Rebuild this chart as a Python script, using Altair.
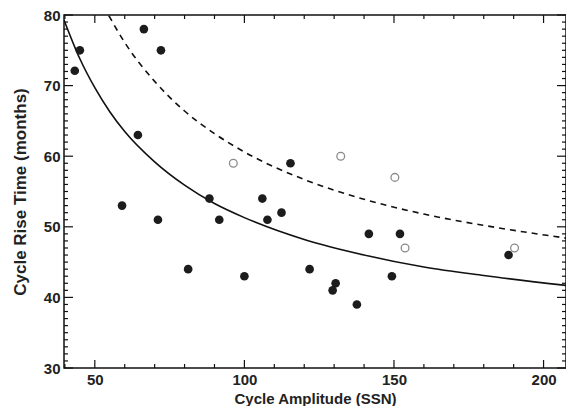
import altair as alt
import pandas as pd

# ---- data ----
filled_amp = [43.3, 45.0, 66.4, 72.1, 64.4, 59.1, 71.1, 81.2, 100.0, 88.3, 91.6,
              106.0, 107.7, 112.4, 115.4, 121.8, 130.5, 129.5, 137.6, 141.6, 152.0,
              149.3, 188.3]
filled_rise = [72.1, 75.0, 78.0, 75.0, 63.0, 53.0, 51.0, 44.0, 43.0, 54.0, 51.0,
               54.0, 51.0, 52.0, 59.0, 44.0, 42.0, 41.0, 39.0, 49.0, 49.0,
               43.0, 46.0]
open_amp = [96.3, 132.2, 150.3, 153.7, 190.3]
open_rise = [59.0, 60.0, 57.0, 47.0, 47.0]

solid_amp = [39.7, 45, 50, 55, 60, 70, 80, 90, 100, 120, 140, 160, 180, 207.5]
solid_rise = [79.3, 73.8, 69.7, 66.3, 63.5, 59.2, 55.9, 53.3, 51.3, 48.2, 46.0, 44.3, 43.1, 41.7]
dashed_amp = [54.7, 60, 70, 80, 90, 100, 120, 140, 160, 180, 207.5]
dashed_rise = [79.9, 76.1, 70.6, 66.4, 63.2, 60.6, 56.7, 53.9, 51.8, 50.2, 48.4]

x_major = [50, 100, 150, 200]
x_minor = [40, 60, 70, 80, 90, 110, 120, 130, 140, 160, 170, 180, 190]
y_major = [30, 40, 50, 60, 70, 80]
y_minor = [v for v in range(31, 80) if v % 10 != 0]

# ---- layout / style ----
W, H = 502, 353
FONT = "Liberation Sans"
xs = alt.Scale(domain=[39.7, 207.5], nice=False, zero=False)
ys = alt.Scale(domain=[30, 80], nice=False, zero=False)

pts = pd.DataFrame({"amp": filled_amp, "rise": filled_rise})
opn = pd.DataFrame({"amp": open_amp, "rise": open_rise})
sol = pd.DataFrame({"amp": solid_amp, "rise": solid_rise})
dsh = pd.DataFrame({"amp": dashed_amp, "rise": dashed_rise})

base_x = alt.X(
    "amp:Q", scale=xs,
    axis=alt.Axis(values=x_major, title="Cycle Amplitude (SSN)", ticks=False, tickSize=0,
                  domain=False, grid=False, labelFont=FONT, labelFontSize=15,
                  labelFontWeight="bold", labelColor="#222", labelPadding=4,
                  titleFont=FONT, titleFontSize=15, titleFontWeight="bold",
                  titleColor="#222", titleBaseline="alphabetic", titleY=35,
                  titleX=W / 2, titleAnchor="middle"),
)
base_y = alt.Y(
    "rise:Q", scale=ys,
    axis=alt.Axis(values=y_major, title="Cycle Rise Time (months)", ticks=False, tickSize=0,
                  domain=False, grid=False, labelFont=FONT, labelFontSize=15,
                  labelFontWeight="bold", labelColor="#222", labelPadding=4,
                  titleFont=FONT, titleFontSize=17, titleFontWeight="bold",
                  titleColor="#222", titleAngle=270, titleBaseline="middle",
                  titleX=-44, titleY=H / 2, titleAlign="center"),
)

solid = alt.Chart(sol).mark_line(color="#111", strokeWidth=1.6, interpolate="monotone",
                                 clip=True).encode(x=base_x, y=base_y)
dashed = alt.Chart(dsh).mark_line(color="#111", strokeWidth=1.6, strokeDash=[6, 5],
                                  interpolate="monotone", clip=True).encode(
    x=alt.X("amp:Q", scale=xs), y=alt.Y("rise:Q", scale=ys))
filled = alt.Chart(pts).mark_circle(size=75, color="#1c1c1c", opacity=1).encode(
    x=alt.X("amp:Q", scale=xs), y=alt.Y("rise:Q", scale=ys))
opened = alt.Chart(opn).mark_point(size=60, shape="circle", filled=False, fill="white",
                                   fillOpacity=1, stroke="#8a8a8a", strokeWidth=1.3,
                                   opacity=1).encode(
    x=alt.X("amp:Q", scale=xs), y=alt.Y("rise:Q", scale=ys))


def xticks(vals, length):
    df = pd.DataFrame({"v": vals})
    bottom = alt.Chart(df).mark_rule(color="#111", strokeWidth=1.2).encode(
        x=alt.X("v:Q", scale=xs), y=alt.value(H), y2=alt.value(H - length))
    top = alt.Chart(df).mark_rule(color="#111", strokeWidth=1.2).encode(
        x=alt.X("v:Q", scale=xs), y=alt.value(0), y2=alt.value(length))
    return [bottom, top]


def yticks(vals, length):
    df = pd.DataFrame({"v": vals})
    left = alt.Chart(df).mark_rule(color="#111", strokeWidth=1.2).encode(
        y=alt.Y("v:Q", scale=ys), x=alt.value(0), x2=alt.value(length))
    right = alt.Chart(df).mark_rule(color="#111", strokeWidth=1.2).encode(
        y=alt.Y("v:Q", scale=ys), x=alt.value(W), x2=alt.value(W - length))
    return [left, right]


tick_layers = xticks(x_major, 8) + xticks(x_minor, 4) + yticks(y_major, 9) + yticks(y_minor, 4)

chart = alt.layer(
    solid, dashed, opened, filled, *tick_layers
).properties(
    width=W, height=H,
    autosize=alt.AutoSizeParams(type="none"),
    padding={"left": 56, "top": 7, "right": 0, "bottom": 38},
    background="white",
).configure_view(stroke="#111", strokeWidth=1.5)

chart.save("out.html", embed_options={"renderer": "svg", "actions": False})
